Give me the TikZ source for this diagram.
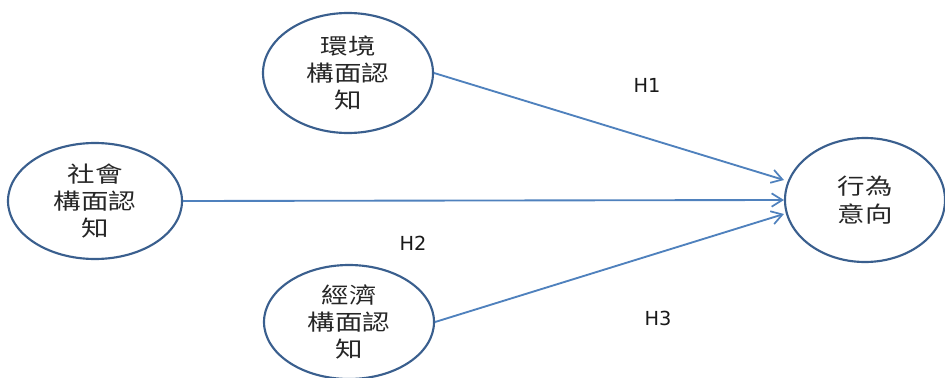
\documentclass[tikz,border=0pt]{standalone}
\usepackage{fontspec}
\newfontfamily\cjk[FakeStretch=1.25]{Noto Sans CJK TC}
\newfontfamily\lab{DejaVu Sans}
\usetikzlibrary{arrows.meta,shapes.geometric}
\begin{document}
\begin{tikzpicture}[x=0.75pt,y=-0.75pt,
  ell/.style={draw=ellblue,line width=1.6pt,ellipse,inner sep=0pt,
    font=\cjk\fontsize{16.5}{20.5}\selectfont,align=center,text=black!85},
  conn/.style={draw=arrblue,line width=1.4pt,-{Straight Barb[length=8pt,width=10pt,line width=1.3pt]}},
  hlab/.style={font=\lab\fontsize{14.5}{16}\selectfont,text=black!90}]
\definecolor{ellblue}{HTML}{3A5F8E}
\definecolor{arrblue}{HTML}{4F81BD}
\useasboundingbox (0,0) rectangle (945,378);
\node[ell,minimum width=127.5pt,minimum height=90pt] (env) at (348,73) {環境\\構面認\\知};
\node[ell,minimum width=130.5pt,minimum height=87pt] (soc) at (95,201) {社會\\構面認\\知};
\node[ell,minimum width=127.5pt,minimum height=85.5pt] (eco) at (349,322) {經濟\\構面認\\知};
\node[ell,minimum width=120pt,minimum height=93pt] (beh) at (865,200) {行為\\意向};
\draw[conn] (env.east) -- ([yshift=15pt]beh.west);
\draw[conn] (soc.east) -- (beh.west);
\draw[conn] (eco.east) -- ([yshift=-10.5pt]beh.west);
\node[hlab] (h1) at (647,85) {H1};
\node[hlab] (h2) at (413,243) {H2};
\node[hlab] (h3) at (658,318) {H3};
\end{tikzpicture}
\end{document}
